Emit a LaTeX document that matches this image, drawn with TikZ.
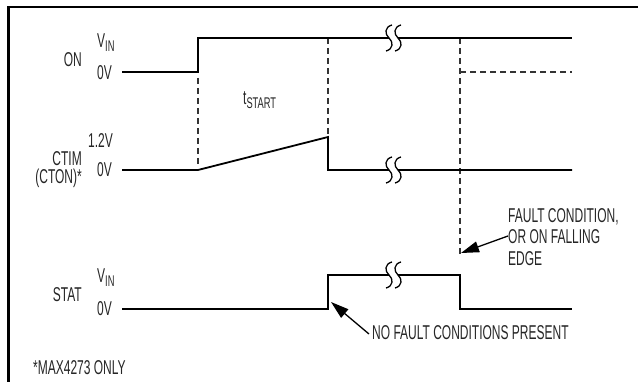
\documentclass[tikz,border=0pt]{standalone}
\usepackage{fontspec}
\setmainfont{Liberation Sans}[FakeStretch=0.6]
\usetikzlibrary{arrows.meta}
\newcommand\mysub[1]{\raisebox{-0.3ex}{\fontsize{15.5}{15.5}\selectfont #1}}
\newcommand\brkmark[3]{% name, x, y
  \fill[white] (#2-4.5,#3-3) rectangle (#2+4.5,#3+3);
  \draw[brk] (#2-1.5,#3-13) .. controls (#2-9,#3-11) and (#2-9,#3-4) .. (#2-4.5,#3) .. controls (#2,#3+4) and (#2,#3+11) .. (#2-7.5,#3+13);
  \draw[brk] (#2+7.5,#3-13) .. controls (#2,#3-11) and (#2,#3-4) .. (#2+4.5,#3) .. controls (#2+9,#3+4) and (#2+9,#3+11) .. (#2+1.5,#3+13);
  \coordinate (#1) at (#2,#3);}
\begin{document}
\begin{tikzpicture}[x=1pt,y=-1pt,
  lbl/.style={inner sep=0pt,font=\fontsize{20}{21.5}\selectfont,text=black!85},
  wave/.style={line width=1.8pt,line join=miter},
  guide/.style={line width=1.2pt,dash pattern=on 6pt off 4pt,black!80},
  brk/.style={line width=1.3pt},
  frame/.style={line width=2.5pt},
  pointer/.style={line width=1.3pt,-{Triangle[length=18pt,width=11pt]}}]
\useasboundingbox (0,0) rectangle (638,382);
% frame
\draw[frame] (8.5,383) -- (8.5,7) -- (639,7);
% coordinates
\coordinate (onA) at (122,72);
\coordinate (onB) at (198,72);
\coordinate (onC) at (198,38);
\coordinate (onD) at (572,38);
\coordinate (onE) at (460,72);
\coordinate (onF) at (572,72);
\coordinate (ctA) at (122,170);
\coordinate (ctB) at (198,170);
\coordinate (ctC) at (328,137);
\coordinate (ctD) at (328,170);
\coordinate (ctE) at (572,170);
\coordinate (stA) at (122,309);
\coordinate (stB) at (328,309);
\coordinate (stC) at (328,275);
\coordinate (stD) at (460,275);
\coordinate (stE) at (460,309);
\coordinate (stF) at (572,309);
\coordinate (fltEnd) at (460,254);
\coordinate (onTop2) at (460,38);
\coordinate (onTop1) at (328,38);
\coordinate (dsh1top) at (198,78);
\coordinate (dsh1bot) at (198,165);
% guides
\draw[guide] (dsh1top) -- (dsh1bot);
\draw[guide] (onTop1) -- (ctC);
\draw[guide] (onTop2) -- (fltEnd);
\draw[guide] (onE) -- (onF);
% waveforms
\draw[wave] (onA) -- (onB) -- (onC) -- (onD);
\draw[wave] (ctA) -- (ctB) -- (ctC) -- (ctD) -- (ctE);
\draw[wave] (stA) -- (stB) -- (stC) -- (stD) -- (stE) -- (stF);
% breaks
\brkmark{b1}{393.5}{38}
\brkmark{b2}{393.5}{170}
\brkmark{b3}{393.5}{275}
% labels
\node[lbl,anchor=base east] (lon) at (82,67) {ON};
\node[lbl,anchor=base west] (lonv) at (97,48) {V\mysub{IN}};
\node[lbl,anchor=base west] (lon0) at (97,80) {0V};
\node[lbl,anchor=base west] (tst) at (243,105) {t\mysub{START}};
\node[lbl,anchor=base west] (lct12) at (88,148) {1.2V};
\node[lbl,anchor=north east,align=right,font=\fontsize{20}{18}\selectfont] (lct) at (82,151.5) {CTIM\\(CTON)*};
\node[lbl,anchor=base west] (lct0) at (97,177) {0V};
\node[lbl,anchor=base east] (lst) at (82,302) {STAT};
\node[lbl,anchor=base west] (lstv) at (97,283) {V\mysub{IN}};
\node[lbl,anchor=base west] (lst0) at (97,316) {0V};
\node[lbl,anchor=base west] (note) at (33,375) {*MAX4273 ONLY};
\node[lbl,anchor=base west] (nofault) at (372,340) {NO FAULT CONDITIONS PRESENT};
\node[lbl,anchor=north west,align=left] (fault) at (508,208) {FAULT CONDITION,\\OR ON FALLING\\EDGE};
% pointers
\coordinate (p1tail) at (369,334);
\coordinate (p1tip) at (331,302);
\coordinate (p2tail) at (508,236);
\coordinate (p2tip) at (461,253);
\draw[pointer] (p1tail) -- (p1tip);
\draw[pointer] (p2tail) -- (p2tip);
\end{tikzpicture}
\end{document}
